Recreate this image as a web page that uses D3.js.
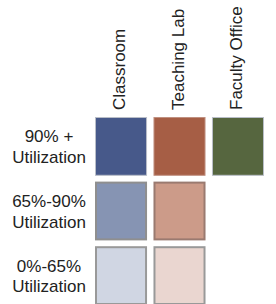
<!DOCTYPE html>
<html>
<head>
<meta charset="utf-8">
<script src="https://cdn.jsdelivr.net/npm/d3@7"></script>
<style>
  body { margin: 0; background: #fff; }
  text { font-family: "Liberation Sans", Arial, sans-serif; fill: #222; }
</style>
</head>
<body>
<div id="chart"></div>
<script>
var spaceTypes = ["Classroom", "Teaching Lab", "Faculty Office"];
var utilBands = ["90% +", "65%-90%", "0%-65%"];
var bandLabel2 = "Utilization";
// fill per space type, one per utilization band (null = no cell)
var classroomFills = ["#47598a", "#8694b3", "#d0d6e3"];
var labFills = ["#a65e45", "#cc9b89", "#ead6d0"];
var officeFills = ["#56663f", null, null];
var strokes = ["#b9bec8", "#8f8f8f", "#999999"];
var labStrokes = ["#c09080", "#9a7a70", "#999999"];

var width = 276, height = 304;

var svg = d3.select("#chart").append("svg")
    .attr("width", width)
    .attr("height", height);

var x = d3.scaleBand()
    .domain(spaceTypes)
    .range([95, 264])
    .paddingInner(0.11)
    .paddingOuter(0);

var y = d3.scaleBand()
    .domain(utilBands)
    .range([117, 305])
    .paddingInner(0.09)
    .paddingOuter(0);

var fillsByType = {
    "Classroom": classroomFills,
    "Teaching Lab": labFills,
    "Faculty Office": officeFills
};

var cells = [];
spaceTypes.forEach(function (t) {
    utilBands.forEach(function (b, i) {
        if (fillsByType[t][i]) {
            cells.push({type: t, band: b, fill: fillsByType[t][i],
                        stroke: t == "Teaching Lab" ? labStrokes[i] : strokes[i], row: i});
        }
    });
});

svg.selectAll("rect.cell")
    .data(cells)
    .enter().append("rect")
    .attr("class", "cell")
    .attr("x", d => x(d.type) + (d.row == 0 ? 0.5 : 1))
    .attr("y", d => y(d.band) + (d.row == 0 ? 0.5 : 1))
    .attr("width", d => x.bandwidth() - (d.row == 0 ? 1 : 2))
    .attr("height", d => y.bandwidth() - (d.row == 0 ? 1 : 2))
    .style("fill", d => d.fill)
    .style("stroke", d => d.stroke)
    .style("stroke-width", d => d.row == 0 ? 1 : 2);

// column headers, rotated
svg.selectAll("text.col")
    .data(spaceTypes)
    .enter().append("text")
    .attr("class", "col")
    .attr("transform", d => "translate(" + (x(d) + x.bandwidth() / 2 + 4) + ",110) rotate(-90)")
    .attr("font-size", "17px")
    .text(d => d);

// row labels
var rowLabels = svg.selectAll("text.row")
    .data(utilBands)
    .enter().append("text")
    .attr("class", "row")
    .attr("text-anchor", "middle")
    .attr("font-size", "17px");

rowLabels.append("tspan")
    .attr("x", 49)
    .attr("y", d => y(d) + y.bandwidth() / 2 - 4)
    .text(d => d);

rowLabels.append("tspan")
    .attr("x", 49)
    .attr("y", d => y(d) + y.bandwidth() / 2 + 16.5)
    .text(bandLabel2);
</script>
</body>
</html>
